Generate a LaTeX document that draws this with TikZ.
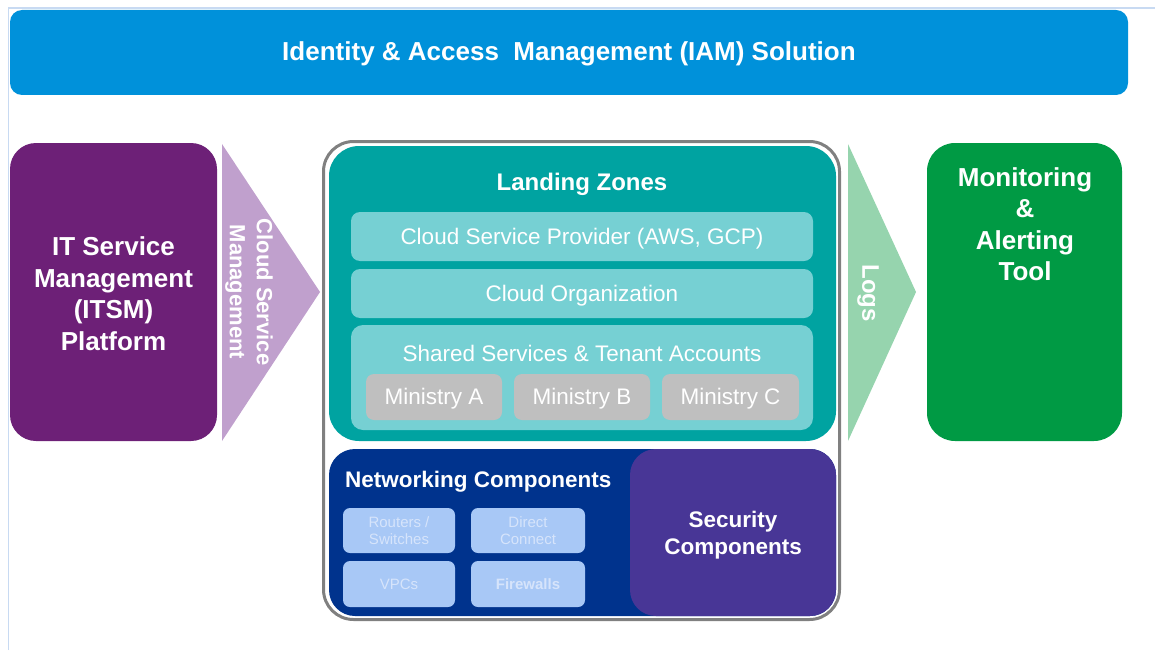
\documentclass[tikz,border=0pt]{standalone}
\usepackage{fontspec}
\setmainfont{Liberation Sans}
\definecolor{iamblue}{RGB}{0,145,218}
\definecolor{itsmpurple}{RGB}{109,32,119}
\definecolor{csmarrow}{RGB}{192,160,205}
\definecolor{lzteal}{RGB}{0,163,161}
\definecolor{lzlight}{RGB}{118,208,211}
\definecolor{minigray}{RGB}{191,191,191}
\definecolor{netnavy}{RGB}{0,51,141}
\definecolor{secpurple}{RGB}{72,54,150}
\definecolor{netbox}{RGB}{168,200,246}
\definecolor{nettext}{RGB}{214,228,251}
\definecolor{logsgreen}{RGB}{150,212,174}
\definecolor{mongreen}{RGB}{0,154,68}
\definecolor{framegray}{RGB}{128,128,128}
\definecolor{pageline}{RGB}{200,218,242}
\tikzset{
  box/.style={draw=none, inner sep=0pt, align=center, text=white},
  bigbold/.style={font=\fontsize{26}{31.5}\selectfont\bfseries},
  midbold/.style={font=\fontsize{22.5}{27}\selectfont\bfseries},
  midreg/.style={font=\fontsize{22.5}{26}\selectfont},
  smallreg/.style={font=\fontsize{15}{17}\selectfont},
  smallbold/.style={font=\fontsize{15}{17}\selectfont\bfseries},
}
\begin{document}
\begin{tikzpicture}[x=1pt,y=-1pt]
\useasboundingbox (0,0) rectangle (1155,650);
% faint page frame
\draw[pageline, line width=1.5pt] (8.5,650) -- (8.5,8) -- (1155,8);

% IAM bar
\node[box, fill=iamblue, rounded corners=12pt, minimum width=1118pt, minimum height=85pt] (iam) at (569,52.5) {};
\node[box, bigbold] (iamtext) at (569,54) {Identity \& Access\ \ Management (IAM) Solution};

% ITSM
\node[box, fill=itsmpurple, rounded corners=26pt, minimum width=207pt, minimum height=298pt] (itsm) at (113.5,292) {};
\node[box, bigbold] (itsmtext) at (113.5,293.5) {IT Service\\Management\\(ITSM)\\Platform};

% Cloud Service Management arrow
\fill[csmarrow] (222,144) -- (320,292) -- (222,441) -- cycle;
\node[box, rotate=-90, font=\fontsize{22}{27}\selectfont\bfseries] (csm) at (249,292) {Cloud Service\\Management};

% outer gray frame
\node[draw=framegray, line width=3pt, rounded corners=30pt, minimum width=516pt, minimum height=478pt, inner sep=0pt] (frame) at (581.5,380.5) {};

% Landing zones
\node[box, fill=lzteal, rounded corners=30pt, minimum width=507pt, minimum height=295pt] (lz) at (582.5,293.5) {};
\node[box, font=\fontsize{24}{28}\selectfont\bfseries] (lztitle) at (582,184) {Landing Zones};
\node[box, fill=lzlight, rounded corners=9pt, minimum width=462pt, minimum height=49pt] (csp) at (582,236.5) {};
\node[box, midreg] (csptext) at (582,239) {Cloud Service Provider (AWS, GCP)};
\node[box, fill=lzlight, rounded corners=9pt, minimum width=462pt, minimum height=49pt] (corg) at (582,293.5) {};
\node[box, midreg] (corgtext) at (582,296) {Cloud Organization};
\node[box, fill=lzlight, rounded corners=12pt, minimum width=462pt, minimum height=105pt] (shared) at (582,377.5) {};
\node[box, midreg] (sharedtitle) at (582,353.5) {Shared Services \& Tenant Accounts};
\node[box, fill=minigray, rounded corners=8pt, minimum width=136pt, minimum height=46pt] (minA) at (434,397) {};
\node[box, fill=minigray, rounded corners=8pt, minimum width=136pt, minimum height=46pt] (minB) at (582,397) {};
\node[box, fill=minigray, rounded corners=8pt, minimum width=137pt, minimum height=46pt] (minC) at (730.5,397) {};
\node[box, midreg] (minAtext) at (434,399) {Ministry A};
\node[box, midreg] (minBtext) at (582,399) {Ministry B};
\node[box, midreg] (minCtext) at (730.5,399) {Ministry C};

% Networking
\node[box, fill=netnavy, rounded corners=26pt, minimum width=507pt, minimum height=167pt] (net) at (582.5,532.5) {};
\node[box, fill=secpurple, rounded corners=26pt, minimum width=206pt, minimum height=167pt] (sec) at (733,532.5) {};
\node[box, midbold] (sectext) at (733,535) {Security\\Components};
\node[box, midbold, anchor=west] (nettitle) at (345,482) {Networking Components};
\node[box, fill=netbox, rounded corners=7pt, minimum width=112pt, minimum height=45pt, smallreg, text=nettext] (rout) at (399,530.5) {Routers /\\Switches};
\node[box, fill=netbox, rounded corners=7pt, minimum width=114pt, minimum height=45pt, smallreg, text=nettext] (dc) at (528,530.5) {Direct\\Connect};
\node[box, fill=netbox, rounded corners=7pt, minimum width=112pt, minimum height=46pt, smallreg, text=nettext] (vpc) at (399,584) {VPCs};
\node[box, fill=netbox, rounded corners=7pt, minimum width=114pt, minimum height=46pt, smallbold, text=nettext] (fw) at (528,584) {Firewalls};

% Logs arrow
\fill[logsgreen] (848,144) -- (916,292) -- (848,441) -- cycle;
\node[box, rotate=-90, font=\fontsize{24}{28}\selectfont\bfseries] (logs) at (868,293) {Logs};

% Monitoring
\node[box, fill=mongreen, rounded corners=28pt, minimum width=195pt, minimum height=298pt] (mon) at (1024.5,292) {};
\node[box, bigbold, anchor=north] (montext) at (1025,167) {Monitoring\\\&\\Alerting\\Tool};
\end{tikzpicture}
\end{document}
